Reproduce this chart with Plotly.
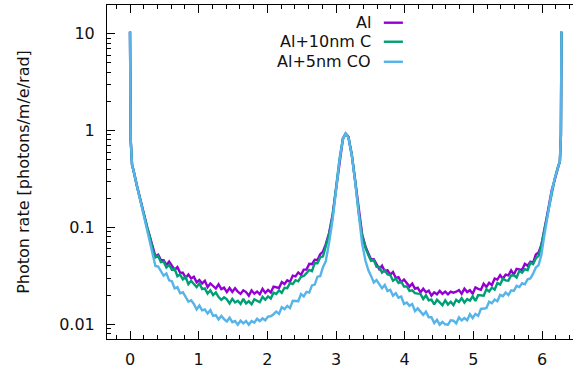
import plotly.graph_objects as go

# Emission angle (rad)
angle = [
    0, 0.01, 0.03, 0.05, 0.1, 0.15, 0.2, 0.25, 0.29,
    0.33, 0.37, 0.41, 0.45, 0.49, 0.53, 0.57, 0.61, 0.65, 0.69, 0.73, 0.77, 0.81, 0.85, 0.89, 0.93,
    0.97, 1.01, 1.05, 1.09, 1.13, 1.17, 1.21, 1.25, 1.29, 1.33, 1.37, 1.41, 1.45, 1.49, 1.53, 1.57,
    1.61, 1.65, 1.69, 1.73, 1.77, 1.81, 1.85, 1.89, 1.93, 1.97, 2.01, 2.05, 2.09, 2.13, 2.17, 2.21,
    2.25, 2.29, 2.33, 2.37, 2.41, 2.45, 2.49, 2.53, 2.57, 2.61, 2.65, 2.69, 2.73, 2.77, 2.81, 2.85,
    2.9, 2.95, 3.0, 3.05, 3.1, 3.14, 3.18, 3.23, 3.28, 3.33, 3.38, 3.43,
    3.47, 3.51, 3.55, 3.59, 3.63, 3.67, 3.71, 3.75, 3.79, 3.83, 3.87, 3.91, 3.95, 3.99, 4.03, 4.07,
    4.11, 4.15, 4.19, 4.23, 4.27, 4.31, 4.35, 4.39, 4.43, 4.47, 4.51, 4.55, 4.59, 4.63, 4.67, 4.71,
    4.75, 4.79, 4.83, 4.87, 4.91, 4.95, 4.99, 5.03, 5.07, 5.11, 5.15, 5.19, 5.23, 5.27, 5.31, 5.35,
    5.39, 5.43, 5.47, 5.51, 5.55, 5.59, 5.63, 5.67, 5.71, 5.75, 5.79, 5.83, 5.87, 5.91, 5.95,
    5.99, 6.03, 6.08, 6.14, 6.19, 6.23, 6.26, 6.275, 6.283,
]

# Photon rate [photons/m/e/rad] for each target
rate_al = [
    10.5, 0.80, 0.44, 0.39, 0.27, 0.19, 0.14, 0.10, 0.080,
    0.0624, 0.0504, 0.0524, 0.0461, 0.0459, 0.0409, 0.0445, 0.0404, 0.0365, 0.0389, 0.0340, 0.0340,
    0.0301, 0.0326, 0.0297, 0.0310, 0.0271, 0.0286, 0.0264, 0.0281, 0.0242, 0.0264, 0.0249, 0.0234,
    0.0259, 0.0231, 0.0239, 0.0215, 0.0237, 0.0216, 0.0236, 0.0217, 0.0206, 0.0224, 0.0215, 0.0197,
    0.0224, 0.0207, 0.0218, 0.0204, 0.0232, 0.0211, 0.0226, 0.0213, 0.0245, 0.0240, 0.0237, 0.0273,
    0.0260, 0.0284, 0.0274, 0.0318, 0.0312, 0.0343, 0.0324, 0.0367, 0.0367, 0.0420, 0.0417, 0.0464,
    0.0461, 0.0530, 0.0564, 0.0667,
    0.088, 0.135, 0.25, 0.50, 0.82, 0.93, 0.86, 0.56, 0.30, 0.145, 0.085, 0.063,
    0.0545, 0.0466, 0.0468, 0.0424, 0.0372, 0.0403, 0.0353, 0.0361, 0.0326, 0.0346, 0.0301, 0.0306,
    0.0271, 0.0290, 0.0265, 0.0245, 0.0263, 0.0233, 0.0238, 0.0214, 0.0233, 0.0214, 0.0222, 0.0198,
    0.0214, 0.0204, 0.0221, 0.0206, 0.0217, 0.0204, 0.0217, 0.0212, 0.0217, 0.0225, 0.0206, 0.0233,
    0.0215, 0.0225, 0.0207, 0.0240, 0.0232, 0.0227, 0.0262, 0.0243, 0.0268, 0.0254, 0.0296, 0.0289,
    0.0321, 0.0295, 0.0326, 0.0320, 0.0360, 0.0326, 0.0374, 0.0370, 0.0365, 0.0421, 0.0402, 0.0443,
    0.0432, 0.0525, 0.0553,
    0.066, 0.090, 0.14, 0.24, 0.33, 0.42, 0.48, 0.90, 10.5,
]

rate_al_c = [
    10.5, 0.80, 0.44, 0.39, 0.27, 0.19, 0.14, 0.10, 0.079,
    0.0596, 0.0490, 0.0508, 0.0437, 0.0443, 0.0385, 0.0410, 0.0366, 0.0375, 0.0314, 0.0326, 0.0291,
    0.0307, 0.0260, 0.0281, 0.0260, 0.0242, 0.0265, 0.0231, 0.0235, 0.0207, 0.0224, 0.0200, 0.0213,
    0.0191, 0.0179, 0.0190, 0.0181, 0.0164, 0.0183, 0.0168, 0.0175, 0.0162, 0.0183, 0.0164, 0.0173,
    0.0161, 0.0181, 0.0174, 0.0169, 0.0192, 0.0179, 0.0194, 0.0184, 0.0212, 0.0205, 0.0224, 0.0211,
    0.0238, 0.0236, 0.0267, 0.0260, 0.0285, 0.0278, 0.0309, 0.0315, 0.0337, 0.0364, 0.0353, 0.0428,
    0.0426, 0.0490, 0.0502, 0.0640,
    0.085, 0.13, 0.25, 0.50, 0.82, 0.93, 0.86, 0.56, 0.30, 0.142, 0.083, 0.061,
    0.0520, 0.0451, 0.0460, 0.0392, 0.0391, 0.0342, 0.0360, 0.0327, 0.0322, 0.0282, 0.0296, 0.0267,
    0.0275, 0.0245, 0.0247, 0.0221, 0.0224, 0.0210, 0.0207, 0.0206, 0.0182, 0.0199, 0.0177, 0.0180,
    0.0160, 0.0179, 0.0168, 0.0157, 0.0177, 0.0160, 0.0171, 0.0158, 0.0179, 0.0170, 0.0186, 0.0167,
    0.0182, 0.0175, 0.0194, 0.0174, 0.0200, 0.0198, 0.0197, 0.0230, 0.0218, 0.0239, 0.0228, 0.0267,
    0.0257, 0.0295, 0.0284, 0.0282, 0.0319, 0.0320, 0.0304, 0.0357, 0.0341, 0.0371, 0.0362, 0.0432,
    0.0417, 0.0479, 0.0508,
    0.065, 0.090, 0.14, 0.24, 0.33, 0.42, 0.48, 0.90, 10.5,
]

rate_al_co = [
    10.5, 0.80, 0.44, 0.39, 0.27, 0.19, 0.14, 0.098, 0.074,
    0.0551, 0.0400, 0.0395, 0.0350, 0.0317, 0.0335, 0.0284, 0.0278, 0.0235, 0.0242, 0.0209, 0.0214,
    0.0188, 0.0171, 0.0177, 0.0162, 0.0142, 0.0156, 0.0139, 0.0142, 0.0129, 0.0140, 0.0122, 0.0124,
    0.0112, 0.0122, 0.0113, 0.0107, 0.0117, 0.0105, 0.0108, 0.0099, 0.0109, 0.0102, 0.0108, 0.0099,
    0.0108, 0.0104, 0.0114, 0.0108, 0.0115, 0.0110, 0.0120, 0.0121, 0.0127, 0.0135, 0.0128, 0.0150,
    0.0143, 0.0155, 0.0147, 0.0175, 0.0174, 0.0173, 0.0205, 0.0194, 0.0216, 0.0212, 0.0252, 0.0257,
    0.0310, 0.0314, 0.0388, 0.0446,
    0.070, 0.12, 0.24, 0.49, 0.81, 0.93, 0.85, 0.55, 0.29, 0.135, 0.068, 0.045,
    0.0363, 0.0316, 0.0270, 0.0286, 0.0258, 0.0235, 0.0254, 0.0220, 0.0227, 0.0197, 0.0210, 0.0188,
    0.0193, 0.0162, 0.0168, 0.0155, 0.0162, 0.0137, 0.0146, 0.0135, 0.0125, 0.0135, 0.0118, 0.0118,
    0.0103, 0.0111, 0.0099, 0.0106, 0.0100, 0.0099, 0.0110, 0.0109, 0.0102, 0.0118, 0.0110, 0.0116,
    0.0110, 0.0127, 0.0116, 0.0128, 0.0122, 0.0144, 0.0145, 0.0147, 0.0171, 0.0165, 0.0180, 0.0173,
    0.0201, 0.0195, 0.0213, 0.0200, 0.0224, 0.0221, 0.0249, 0.0242, 0.0266, 0.0259, 0.0291, 0.0297,
    0.0333, 0.0385, 0.0409,
    0.052, 0.080, 0.13, 0.235, 0.33, 0.42, 0.48, 0.90, 10.5,
]

series_names = ["Al", "Al+10nm C", "Al+5nm CO"]
series_colors = ["#9400d3", "#009e73", "#56b4e9"]
series_values = [rate_al, rate_al_c, rate_al_co]

y_tick_vals = [0.01, 0.1, 1, 10]
y_tick_text = ["0.01", "0.1", "1", "10"]
y_minor_vals = [m * d for d in (0.001, 0.01, 0.1, 1) for m in range(2, 10)]

FONT = "DejaVu Sans"

fig = go.Figure()
for name, color, vals in zip(series_names, series_colors, series_values):
    fig.add_trace(go.Scatter(
        x=angle, y=vals, mode="lines", name=name,
        line=dict(color=color, width=2.4), showlegend=False,
    ))

# gnuplot-style key: right-aligned label followed by a short line sample
key_y = [0.947, 0.890, 0.830]
for name, color, ky in zip(series_names, series_colors, key_y):
    fig.add_annotation(
        xref="paper", yref="paper", x=0.570, y=ky, text=name, showarrow=False,
        xanchor="right", yanchor="middle", font=dict(family=FONT, size=16, color="#111"),
    )
    fig.add_shape(
        type="line", xref="paper", yref="paper", x0=0.594, x1=0.635, y0=ky, y1=ky,
        line=dict(color=color, width=2.4),
    )

fig.update_layout(
    width=573, height=371,
    margin=dict(l=107, r=0, t=5, b=32),
    paper_bgcolor="white", plot_bgcolor="white",
    font=dict(family=FONT, size=16, color="#111"),
)
fig.update_xaxes(
    range=[-0.335, 6.451], tickmode="linear", tick0=0, dtick=1,
    ticks="inside", ticklen=8, tickwidth=1, tickcolor="black",
    minor=dict(ticks="inside", ticklen=4, dtick=0.2, tick0=0, tickcolor="black"),
    showline=True, linecolor="black", linewidth=1, mirror="ticks",
    showgrid=False, zeroline=False, ticklabelstandoff=6,
)
fig.update_yaxes(
    type="log", range=[-2.152, 1.296],
    tickmode="array", tickvals=y_tick_vals, ticktext=y_tick_text,
    ticks="inside", ticklen=8, tickwidth=1, tickcolor="black",
    minor=dict(ticks="inside", ticklen=4, tickvals=y_minor_vals, tickcolor="black"),
    showline=True, linecolor="black", linewidth=1,
    showgrid=False, zeroline=False, ticklabelstandoff=8,
    title=dict(text="Photon rate [photons/m/e/rad]", standoff=25,
               font=dict(family=FONT, size=16, color="#111")),
)

fig.write_html("out.html")
